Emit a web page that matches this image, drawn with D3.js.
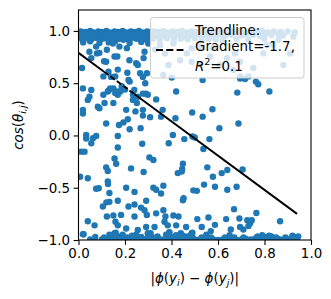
<!DOCTYPE html>
<html>
<head>
<meta charset="utf-8">
<script src="https://cdn.jsdelivr.net/npm/d3@7"></script>
<style>
body { margin: 0; background: #fff; }
text { font-family: "DejaVu Sans", sans-serif; }
</style>
</head>
<body>
<div id="chart"></div>
<script>
// dense band of points near cos = 1 (left part dark, right part under the legend)
var upperBand = [
[0.01,0.995],[0.03,0.99],[0.05,1.0],[0.065,0.985],[0.085,0.995],[0.10,0.99],[0.12,1.0],[0.135,0.985],[0.155,0.995],[0.17,0.99],[0.19,1.0],[0.205,0.985],[0.225,0.995],[0.24,0.99],[0.26,1.0],[0.275,0.985],[0.295,0.995],[0.31,0.99],
[0.02,0.975],[0.04,0.98],[0.06,0.975],[0.075,0.97],[0.095,0.975],[0.11,0.98],[0.125,0.97],[0.145,0.975],[0.16,0.98],[0.18,0.97],[0.195,0.975],[0.215,0.98],[0.23,0.97],[0.25,0.975],[0.265,0.98],[0.285,0.97],[0.3,0.975],
[0.005,0.96],[0.025,0.955],[0.045,0.965],[0.06,0.95],[0.08,0.96],[0.095,0.955],[0.115,0.965],[0.13,0.95],[0.15,0.96],[0.165,0.955],[0.185,0.965],[0.2,0.95],[0.22,0.96],[0.235,0.955],[0.255,0.965],[0.27,0.95],[0.29,0.96],[0.305,0.955],
[0.01,0.94],[0.03,0.945],[0.065,0.94],[0.09,0.945],[0.12,0.94],[0.15,0.945],[0.185,0.94],[0.205,0.945],[0.24,0.94],[0.275,0.945],[0.295,0.94],
[0.015,0.925],[0.04,0.93],[0.055,0.92],[0.075,0.935],[0.1,0.925],[0.11,0.93],[0.14,0.92],[0.16,0.935],[0.175,0.925],[0.195,0.93],[0.215,0.92],[0.23,0.935],[0.25,0.925],[0.265,0.93],[0.285,0.92],[0.3,0.935],
[0.02,0.89],[0.05,0.90],[0.09,0.885],[0.13,0.89],[0.158,0.90],[0.193,0.915],[0.22,0.885],[0.27,0.895],[0.3,0.88],
[0.325,0.995],[0.345,0.99],[0.365,1.0],[0.385,0.985],[0.405,0.995],[0.425,0.99],[0.445,1.0],[0.465,0.985],[0.485,0.995],[0.505,0.99],[0.525,1.0],[0.545,0.985],[0.565,0.995],[0.585,0.99],[0.605,1.0],[0.625,0.985],[0.645,0.995],[0.665,0.99],[0.69,1.0],[0.715,0.985],[0.74,0.995],[0.765,0.99],[0.79,1.0],[0.815,0.985],[0.84,0.995],[0.87,0.99],[0.9,0.995],[0.93,0.985],
[0.33,0.975],[0.36,0.97],[0.39,0.975],[0.42,0.97],[0.45,0.975],[0.48,0.97],[0.51,0.975],[0.54,0.97],[0.57,0.975],[0.61,0.97],[0.65,0.975],[0.72,0.97],[0.8,0.975],[0.86,0.97],
[0.315,0.96],[0.335,0.955],[0.355,0.965],[0.375,0.95],[0.395,0.96],[0.415,0.955],[0.435,0.965],[0.455,0.95],[0.475,0.96],[0.495,0.955],[0.515,0.965],[0.535,0.95],[0.555,0.96],[0.575,0.955],[0.6,0.965],[0.63,0.95],[0.66,0.96],[0.7,0.955],[0.75,0.96],[0.78,0.95],[0.83,0.96],[0.88,0.955],
[0.32,0.925],[0.35,0.92],[0.38,0.93],[0.41,0.915],[0.44,0.925],[0.47,0.92],[0.5,0.93],[0.53,0.915],[0.56,0.925],[0.59,0.92],[0.62,0.91],[0.68,0.92],[0.73,0.915],[0.8,0.925],[0.86,0.915],[0.924,0.945]
];

// band of points near cos = -1
var lowerBand = [
[0.022,-0.945],[0.072,-0.97],[0.05,-0.995],[0.07,-0.99],[0.1,-0.995],[0.13,-0.985],[0.155,-0.99],[0.175,-0.995],[0.2,-0.99],[0.22,-0.985],[0.245,-0.99],[0.265,-0.995],[0.29,-0.99],[0.31,-0.985],[0.335,-0.99],[0.355,-0.995],[0.375,-0.99],[0.395,-0.985],[0.42,-0.99],[0.44,-0.995],[0.46,-0.99],[0.48,-0.995],[0.5,-0.995],[0.52,-0.995],[0.54,-1.0],[0.56,-0.995],[0.58,-0.995],[0.6,-1.0],[0.62,-0.995],[0.64,-0.99],[0.66,-0.995],[0.68,-1.0],[0.7,-0.995],[0.72,-0.99],[0.74,-0.995],[0.76,-0.985],[0.78,-0.98],[0.8,-0.985],[0.82,-0.99],[0.84,-0.985],[0.86,-0.99],[0.88,-0.995],[0.9,-0.99],[0.92,-0.995],[0.94,-0.99],
[0.11,-0.975],[0.14,-0.96],[0.165,-0.975],[0.18,-0.965],[0.21,-0.975],[0.23,-0.96],[0.27,-0.97],[0.3,-0.96],[0.32,-0.975],[0.34,-0.965],[0.38,-0.96],[0.41,-0.97],[0.45,-0.96],[0.47,-0.965],[0.49,-0.97],[0.53,-0.975],[0.57,-0.975],[0.63,-0.975],[0.67,-0.975],[0.71,-0.975],[0.77,-0.965],[0.81,-0.97],[0.83,-0.965],[0.85,-0.975],[0.89,-0.975],[0.93,-0.97],[0.945,-0.965],
[0.16,-0.93],[0.31,-0.935],[0.39,-0.93],[0.44,-0.935],[0.49,-0.93],[0.55,-0.95],[0.65,-0.955],[0.79,-0.955],[0.82,-0.96],[0.92,-0.96]
];

// scattered points in between
var midPoints = [
[0.015,0.645],[0.047,0.80],[0.079,0.785],[0.09,0.79],[0.055,0.74],[0.076,0.85],[0.11,0.71],[0.119,0.705],[0.122,0.82],[0.148,0.88],[0.176,0.85],[0.155,0.755],[0.167,0.755],[0.208,0.835],[0.219,0.72],[0.248,0.69],[0.255,0.675],[0.28,0.74],[0.284,0.80],
[0.169,0.63],[0.14,0.56],[0.107,0.565],[0.129,0.61],[0.158,0.565],[0.21,0.60],[0.265,0.595],[0.294,0.595],[0.215,0.53],[0.22,0.515],[0.277,0.56],[0.287,0.50],
[0.019,0.45],[0.055,0.435],[0.13,0.43],[0.136,0.45],[0.15,0.45],[0.17,0.42],[0.186,0.47],[0.2,0.44],[0.24,0.435],[0.29,0.40],[0.42,0.42],[0.047,0.37],[0.04,0.34],[0.126,0.42],[0.169,0.39],[0.18,0.42],[0.234,0.39],[0.255,0.37],[0.277,0.40],[0.298,0.39],[0.334,0.345],[0.107,0.39],[0.158,0.405],[0.234,0.34],
[0.083,0.275],[0.09,0.26],[0.112,0.31],[0.15,0.31],[0.251,0.31],[0.019,0.245],[0.019,0.21],[0.205,0.245],[0.245,0.23],[0.277,0.245],[0.362,0.245],[0.277,0.19],[0.308,0.175],[0.355,0.18],[0.417,0.165],[0.489,0.22],[0.534,0.18],[0.576,0.25],[0.683,0.41],[0.821,0.42],
[0.119,0.115],[0.174,0.10],[0.193,0.125],[0.212,0.155],[0.22,0.06],[0.267,0.07],[0.606,0.07],[0.688,0.115],
[0.033,0.005],[0.033,-0.03],[0.062,-0.027],[0.076,-0.005],[0.055,-0.075],[0.169,-0.005],[0.274,-0.08],[0.388,-0.075],[0.406,0.005],[0.455,-0.035],[0.49,-0.01],[0.50,-0.02],[0.563,-0.035],[0.537,-0.13],
[0.012,-0.155],[0.026,-0.155],[0.169,-0.115],[0.155,-0.22],[0.162,-0.27],[0.305,-0.21],[0.322,-0.235],[0.119,-0.305],[0.126,-0.34],[0.226,-0.315],[0.28,-0.35],[0.449,-0.27],[0.446,-0.32],[0.427,-0.36],[0.554,-0.305],[0.64,-0.33],[0.706,-0.325],[0.578,-0.395],[0.616,-0.36],[0.444,-0.345],[0.007,-0.395],[0.04,-0.41],[0.126,-0.44],[0.127,-0.465],
[0.076,-0.51],[0.087,-0.505],[0.133,-0.55],[0.205,-0.50],[0.241,-0.54],[0.322,-0.50],[0.334,-0.52],[0.365,-0.48],[0.355,-0.555],[0.494,-0.525],[0.509,-0.53],[0.54,-0.47],[0.587,-0.49],[0.64,-0.52],[0.68,-0.49],
[0.133,-0.635],[0.12,-0.64],[0.169,-0.625],[0.105,-0.68],[0.215,-0.68],[0.241,-0.66],[0.269,-0.69],[0.284,-0.715],[0.291,-0.625],[0.294,-0.76],[0.334,-0.745],[0.365,-0.715],[0.374,-0.775],[0.449,-0.62],[0.452,-0.60],[0.122,-0.775],[0.15,-0.765],[0.183,-0.76],[0.241,-0.775],[0.408,-0.765],[0.43,-0.775],[0.669,-0.705],[0.765,-0.742],
[0.04,-0.82],[0.069,-0.86],[0.159,-0.825],[0.169,-0.86],[0.205,-0.89],[0.255,-0.905],[0.291,-0.875],[0.327,-0.875],[0.37,-0.825],[0.384,-0.86],[0.42,-0.86],[0.463,-0.875],[0.511,-0.8],[0.559,-0.785],[0.635,-0.8],[0.692,-0.795],[0.726,-0.81],[0.745,-0.81],[0.53,-0.875],[0.587,-0.855],[0.655,-0.9],[0.695,-0.875],[0.709,-0.9],[0.731,-0.865],[0.738,-0.84],[0.569,-0.915],[0.867,-0.82],
[0.019,-0.945],[0.133,-0.95],[0.155,-0.935],[0.19,-0.95],[0.248,-0.95],[0.298,-0.935],[0.377,-0.95],[0.391,-0.925],[0.42,-0.955],[0.441,-0.945],[0.484,-0.95],[0.487,-0.935],
// behind the legend
[0.33,0.82],[0.351,0.865],[0.372,0.785],[0.408,0.88],[0.437,0.72],[0.466,0.785],[0.487,0.835],[0.487,0.705],[0.523,0.675],[0.566,0.755],[0.609,0.675],[0.638,0.74],[0.673,0.785],[0.695,0.705],[0.752,0.645],[0.731,0.565],[0.695,0.565],[0.666,0.625],[0.401,0.555],[0.365,0.58],[0.387,0.675],[0.523,0.85],[0.58,0.835],[0.795,0.785],[0.81,0.865],[0.881,0.675],[0.836,0.87],[0.91,0.785],
[0.534,0.53],[0.695,0.545],[0.716,0.54],[0.763,0.515],[0.773,0.49]
];

var trendX = [0, 0.11, 0.24, 0.94];
var trendY = [0.79, 0.61, 0.396, -0.75];

var xTicks = [0, 0.2, 0.4, 0.6, 0.8, 1.0];
var yTicks = [-1.0, -0.5, 0.0, 0.5, 1.0];

var W = 331, H = 299;
var plot = {left: 78.5, right: 311, top: 10, bottom: 240};

var x = d3.scaleLinear().domain([0, 1]).range([plot.left, plot.right]);
var y = d3.scaleLinear().domain([-1, 1.2]).range([plot.bottom, plot.top]);

var svg = d3.select("#chart").append("svg")
	.attr("width", W).attr("height", H);

svg.append("clipPath").attr("id", "clip")
	.append("rect")
	.attr("x", plot.left).attr("y", plot.top)
	.attr("width", plot.right - plot.left).attr("height", plot.bottom - plot.top);

var pts = upperBand.concat(lowerBand).concat(midPoints);

svg.append("g").attr("clip-path", "url(#clip)")
	.selectAll("circle")
	.data(pts).enter()
	.append("circle")
	.attr("cx", function(d) { return x(d[0]); })
	.attr("cy", function(d) { return y(d[1]); })
	.attr("r", 3.2)
	.attr("fill", "#1f77b4");

// trendline: solid looking except a short stretch where the dashes show
var segs = [[0, 1, null], [1, 2, "5.5,2.4"], [2, 3, null]];
segs.forEach(function(s) {
	svg.append("line")
		.attr("x1", x(trendX[s[0]])).attr("y1", y(trendY[s[0]]))
		.attr("x2", x(trendX[s[1]])).attr("y2", y(trendY[s[1]]))
		.attr("stroke", "#000")
		.attr("stroke-width", 1.9)
		.attr("stroke-dasharray", s[2]);
});

// axes
var xAxis = d3.axisBottom(x).tickValues(xTicks).tickFormat(d3.format(".1f")).tickSize(4.9).tickPadding(3.5);
var yAxis = d3.axisLeft(y).tickValues(yTicks)
	.tickFormat(function(d) { return d3.format(".1f")(d).replace("-", "\u2212"); })
	.tickSize(4.9).tickPadding(3.5);

var gx = svg.append("g").attr("transform", "translate(0," + plot.bottom + ")").call(xAxis);
var gy = svg.append("g").attr("transform", "translate(" + plot.left + ",0)").call(yAxis);
[gx, gy].forEach(function(g) {
	g.select(".domain").remove();
	g.selectAll(".tick line").attr("stroke", "#000").attr("stroke-width", 1.1);
	g.selectAll(".tick text").attr("fill", "#000").style("font-size", "13.4px");
});

svg.append("rect")
	.attr("x", plot.left).attr("y", plot.top)
	.attr("width", plot.right - plot.left).attr("height", plot.bottom - plot.top)
	.attr("fill", "none").attr("stroke", "#000").attr("stroke-width", 1.1);

// axis titles
var xl = svg.append("text")
	.attr("x", (plot.left + plot.right) / 2).attr("y", 283)
	.attr("text-anchor", "middle").style("font-size", "13.4px");
xl.append("tspan").text("|");
xl.append("tspan").attr("font-style", "italic").text("\u03d5");
xl.append("tspan").text("(");
xl.append("tspan").attr("font-style", "italic").text("y");
xl.append("tspan").attr("font-style", "italic").attr("font-size", "9.5px").attr("dy", 2.5).text("i");
xl.append("tspan").attr("dy", -2.5).text(") \u2212 ");
xl.append("tspan").attr("font-style", "italic").text("\u03d5");
xl.append("tspan").text("(");
xl.append("tspan").attr("font-style", "italic").text("y");
xl.append("tspan").attr("font-style", "italic").attr("font-size", "9.5px").attr("dy", 2.5).text("j");
xl.append("tspan").attr("dy", -2.5).text(")|");

var yl = svg.append("text")
	.attr("transform", "translate(23," + (plot.top + plot.bottom) / 2 + ") rotate(-90)")
	.attr("text-anchor", "middle").style("font-size", "13.4px");
yl.append("tspan").attr("font-style", "italic").text("cos");
yl.append("tspan").text("(");
yl.append("tspan").attr("font-style", "italic").text("\u03b8");
yl.append("tspan").attr("font-style", "italic").attr("font-size", "9.5px").attr("dy", 2.5).text("i,j");
yl.append("tspan").attr("dy", -2.5).text(")");

// legend
var lg = svg.append("g");
lg.append("rect")
	.attr("x", 150.5).attr("y", 17.5).attr("width", 153.5).attr("height", 60.5)
	.attr("rx", 3).attr("fill", "#fff").attr("fill-opacity", 0.8)
	.attr("stroke", "#cccccc").attr("stroke-width", 1);
lg.append("line")
	.attr("x1", 156).attr("x2", 183.5).attr("y1", 50).attr("y2", 50)
	.attr("stroke", "#000").attr("stroke-width", 1.9).attr("stroke-dasharray", "7,3.3");
lg.append("text").attr("x", 195).attr("y", 35).style("font-size", "13.4px").text("Trendline:");
lg.append("text").attr("x", 195).attr("y", 50.7).style("font-size", "13.4px").text("Gradient=-1.7,");
var r2 = lg.append("text").attr("x", 195).attr("y", 70.7).style("font-size", "13.4px");
r2.append("tspan").attr("font-style", "italic").text("R");
r2.append("tspan").attr("font-size", "9.5px").attr("dy", -5.5).text("2");
r2.append("tspan").attr("dy", 5.5).text("=0.1");
</script>
</body>
</html>
